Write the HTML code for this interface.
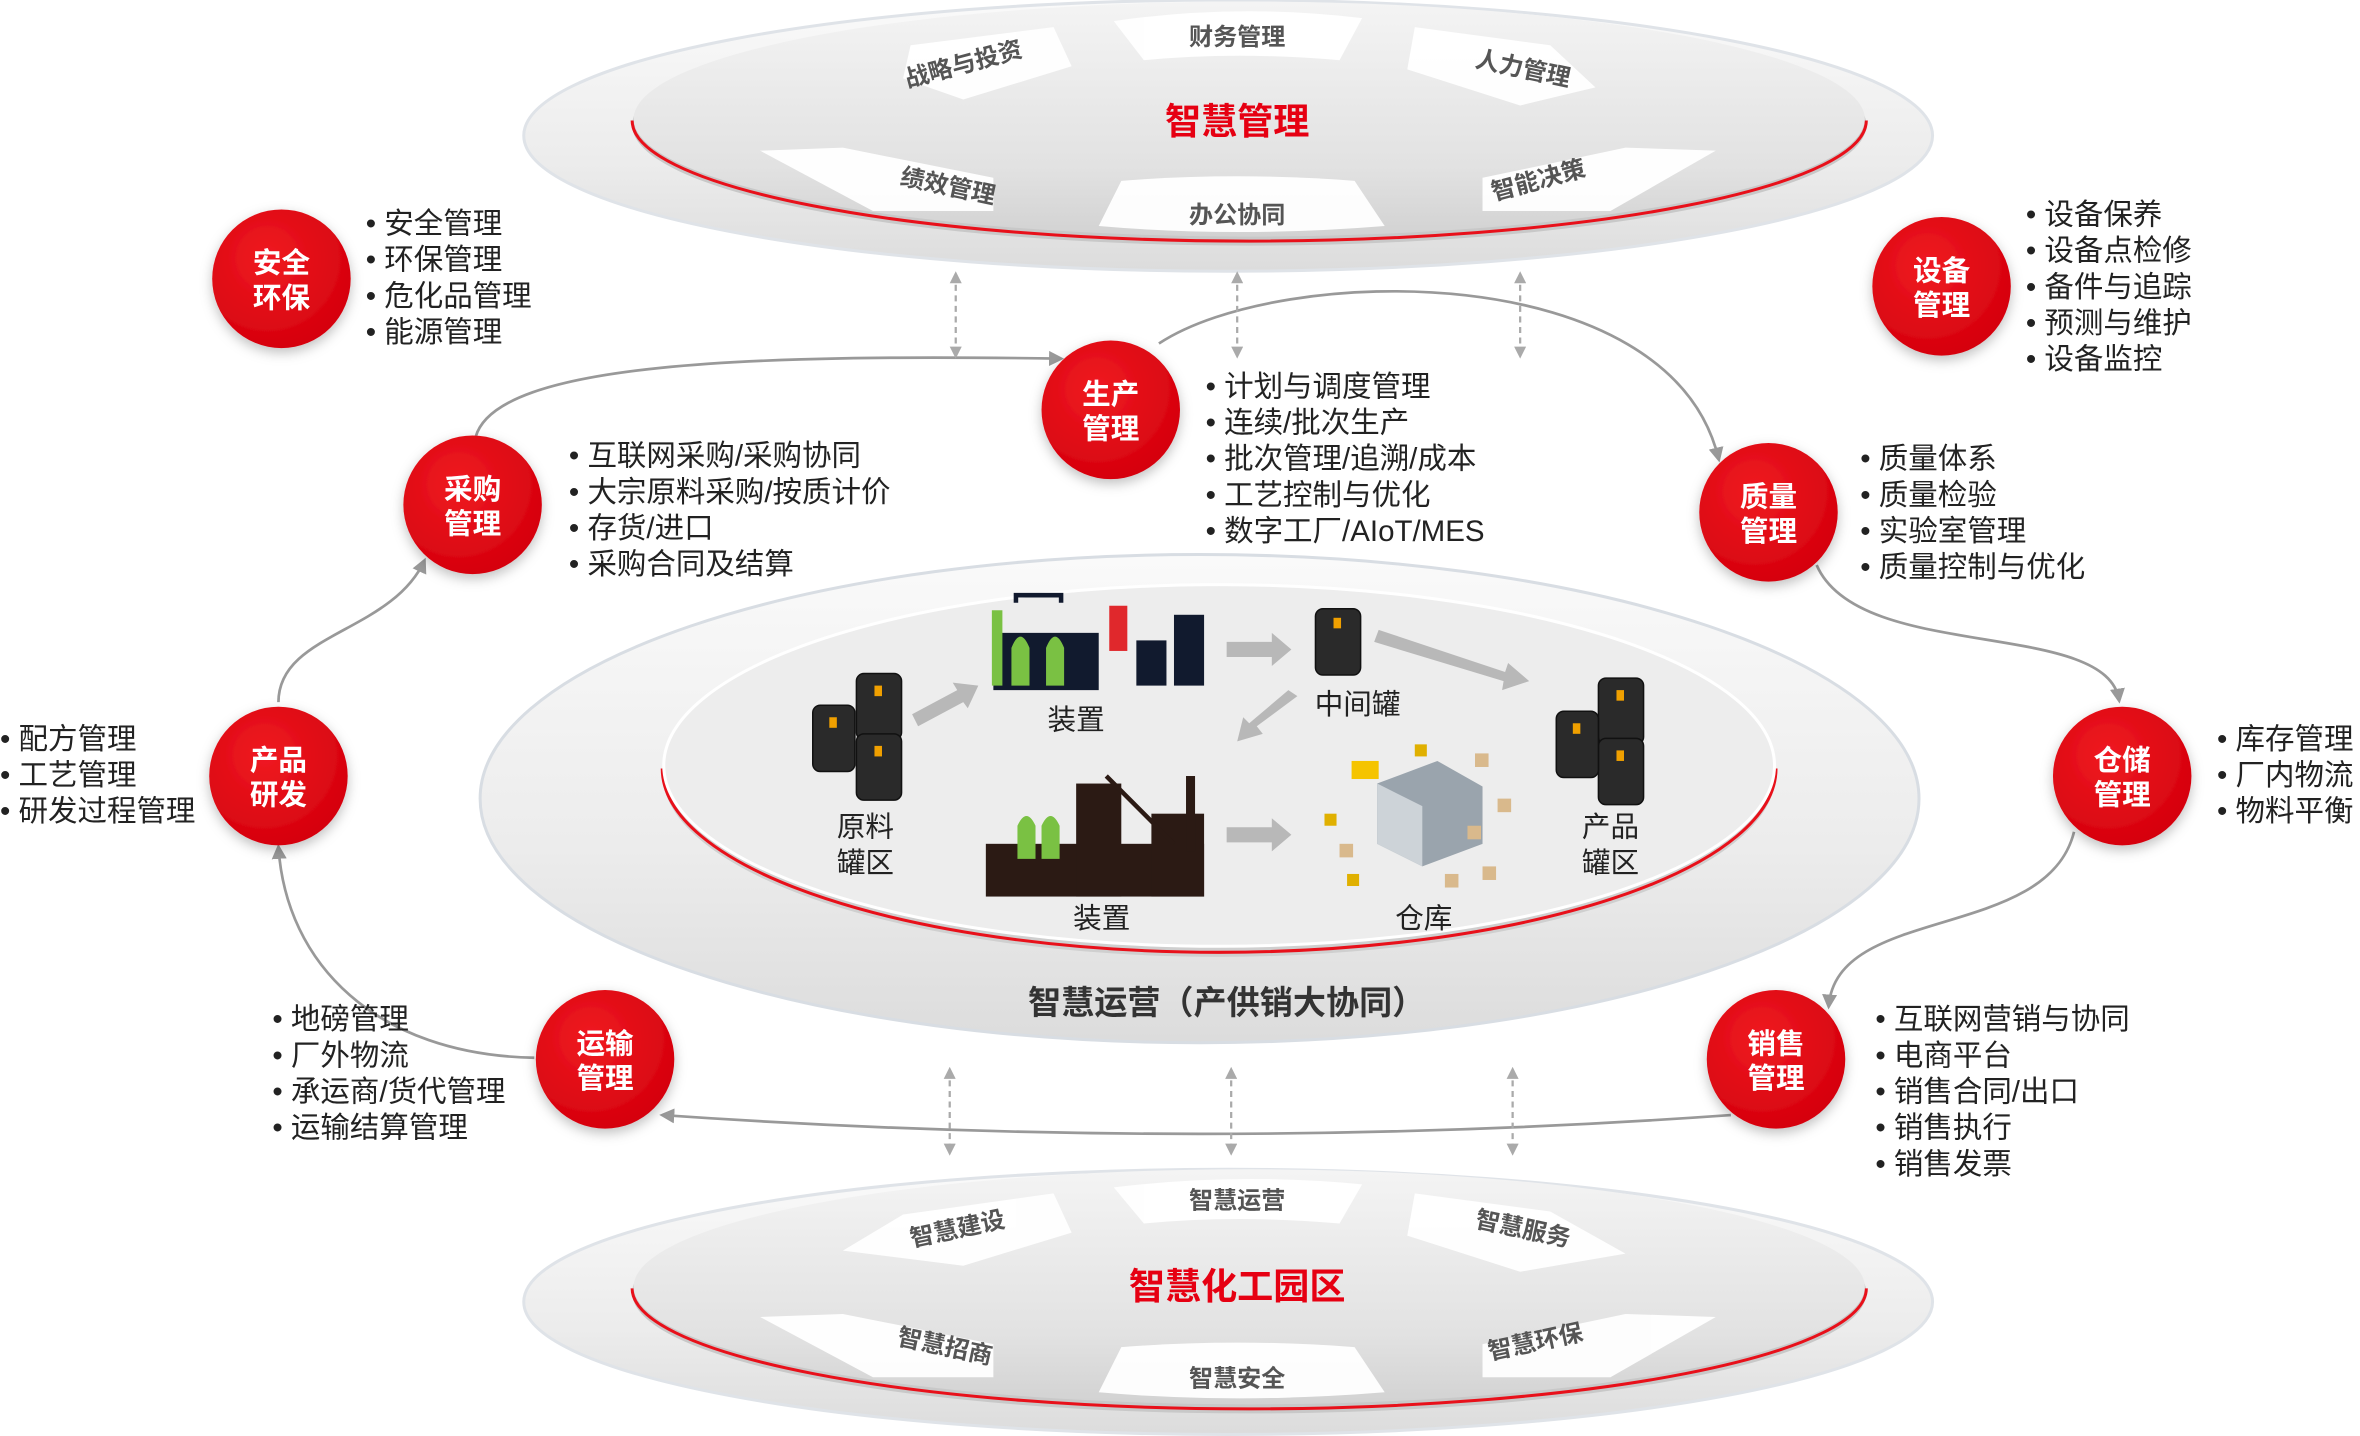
<!DOCTYPE html>
<html><head><meta charset="utf-8"><style>
html,body{margin:0;padding:0;background:#fff;}
svg{display:block;}
text{font-family:"Liberation Sans","Noto Sans CJK SC",sans-serif;}
</style></head><body>
<svg width="2360" height="1436" viewBox="0 0 1568 953" preserveAspectRatio="none" xmlns="http://www.w3.org/2000/svg">
<defs>
<linearGradient id="og" x1="0" y1="0" x2="0" y2="1"><stop offset="0" stop-color="#fafafa"/><stop offset="0.6" stop-color="#ececec"/><stop offset="1" stop-color="#dcdcdc"/></linearGradient>
<linearGradient id="ig" x1="0" y1="0" x2="0" y2="1"><stop offset="0" stop-color="#f4f4f4"/><stop offset="0.7" stop-color="#e2e2e2"/><stop offset="1" stop-color="#d2d2d2"/></linearGradient>
<radialGradient id="rg" cx="0.4" cy="0.35" r="0.7"><stop offset="0" stop-color="#f01a22"/><stop offset="1" stop-color="#d4000c"/></radialGradient>
<filter id="sh" x="-30%" y="-30%" width="160%" height="160%"><feDropShadow dx="0" dy="3" stdDeviation="4" flood-color="#000" flood-opacity="0.25"/></filter>
<marker id="ar" markerWidth="10" markerHeight="10" refX="8" refY="5" orient="auto" markerUnits="userSpaceOnUse"><path d="M0,0 L10,5 L0,10 z" fill="#999"/></marker>
<marker id="ar2" markerWidth="8" markerHeight="8" refX="6" refY="4" orient="auto-start-reverse" markerUnits="userSpaceOnUse"><path d="M0,0 L8,4 L0,8 z" fill="#aaa"/></marker>
</defs>

<!-- TOP ELLIPSE -->
<g>
<ellipse cx="816" cy="90" rx="468" ry="90" fill="url(#og)" stroke="#dfe3e8" stroke-width="2"/>
<ellipse cx="830" cy="83" rx="410" ry="80" fill="#c8c8c8"/>
<path d="M420,80 A410,80 0 0 0 1240,80" fill="none" stroke="#e8101a" stroke-width="2"/>
<ellipse cx="830" cy="79" rx="409" ry="78" fill="url(#ig)"/>
<g fill="#fff" opacity="0.95">
<path d="M740,14 Q822,2 905,12 L890,40 Q822,34 760,40 Z"/>
<path d="M605,30 L700,18 L712,44 L640,66 L600,52 Z"/>
<path d="M940,18 L1030,30 L1060,58 L1010,70 L935,46 Z"/>
<path d="M505,100 L560,98 L660,118 L660,140 L580,140 Z"/>
<path d="M745,120 Q822,114 900,120 L920,150 Q822,158 730,150 Z"/>
<path d="M985,118 L1080,98 L1140,100 L1070,140 L985,140 Z"/>
</g>
<text x="822" y="89" font-size="24" font-weight="bold" fill="#e60012" text-anchor="middle">智慧管理</text>
<g font-size="16" font-weight="bold" fill="#555" text-anchor="middle">
<text x="822" y="30">财务管理</text>
<text x="640" y="48" transform="rotate(-15 640 42)">战略与投资</text>
<text x="1012" y="51" transform="rotate(12 1012 45)">人力管理</text>
<text x="630" y="129" transform="rotate(12 630 123)">绩效管理</text>
<text x="822" y="148">办公协同</text>
<text x="1022" y="125" transform="rotate(-15 1022 119)">智能决策</text>
</g>
</g>

<!-- BOTTOM ELLIPSE -->
<g>
<ellipse cx="816" cy="864" rx="468" ry="88" fill="url(#og)" stroke="#dfe3e8" stroke-width="2"/>
<ellipse cx="830" cy="858" rx="410" ry="80" fill="#c8c8c8"/>
<path d="M420,855 A410,80 0 0 0 1240,855" fill="none" stroke="#e8101a" stroke-width="2"/>
<ellipse cx="830" cy="854" rx="409" ry="78" fill="url(#ig)"/>
<g fill="#fff" opacity="0.95">
<path d="M740,788 Q822,778 905,786 L890,812 Q822,806 760,812 Z"/>
<path d="M600,806 L700,792 L712,818 L640,840 L560,830 Z"/>
<path d="M940,792 L1030,804 L1080,832 L1010,844 L935,820 Z"/>
<path d="M505,874 L560,872 L660,892 L660,914 L580,914 Z"/>
<path d="M745,894 Q822,888 900,894 L920,924 Q822,932 730,924 Z"/>
<path d="M985,892 L1080,872 L1140,874 L1070,914 L985,914 Z"/>
</g>
<text x="822" y="862" font-size="24" font-weight="bold" fill="#e60012" text-anchor="middle">智慧化工园区</text>
<g font-size="16" font-weight="bold" fill="#555" text-anchor="middle">
<text x="822" y="802">智慧运营</text>
<text x="636" y="821" transform="rotate(-12 636 815)">智慧建设</text>
<text x="1012" y="821" transform="rotate(12 1012 815)">智慧服务</text>
<text x="628" y="899" transform="rotate(12 628 893)">智慧招商</text>
<text x="822" y="920">智慧安全</text>
<text x="1020" y="896" transform="rotate(-12 1020 890)">智慧环保</text>
</g>
</g>

<!-- CENTER ELLIPSE -->
<g>
<ellipse cx="797" cy="530" rx="478" ry="162" fill="url(#og)" stroke="#d8dde3" stroke-width="2"/>
<ellipse cx="810" cy="513" rx="370" ry="122" fill="#cfcfcf"/>
<path d="M440,510 A370,122 0 0 0 1180,510" fill="none" stroke="#e8101a" stroke-width="2"/>
<ellipse cx="810" cy="508" rx="369" ry="120" fill="#ededed" stroke="#fff" stroke-width="2"/>
<text x="815" y="673" font-size="22" font-weight="bold" fill="#333" text-anchor="middle">智慧运营（产供销大协同）</text>

<g fill="#2a2a2a" stroke="#111" stroke-width="1">
<rect x="569" y="447" width="30" height="44" rx="5"/>
<rect x="569" y="487" width="30" height="44" rx="5"/>
<rect x="540" y="468" width="28" height="44" rx="5"/>
<rect x="874" y="404" width="30" height="44" rx="5"/>
<rect x="1062" y="450" width="30" height="44" rx="5"/>
<rect x="1062" y="490" width="30" height="44" rx="5"/>
<rect x="1034" y="472" width="28" height="44" rx="5"/>
</g>
<g fill="#f0a000">
<rect x="581" y="455" width="5" height="7"/><rect x="581" y="495" width="5" height="7"/><rect x="551" y="476" width="5" height="7"/>
<rect x="886" y="410" width="5" height="7"/><rect x="1074" y="458" width="5" height="7"/><rect x="1074" y="498" width="5" height="7"/><rect x="1045" y="480" width="5" height="7"/>
</g>
<g>
<rect x="660" y="420" width="70" height="38" fill="#111a2e"/>
<path d="M675,400 L675,395 L705,395 L705,400" stroke="#111a2e" stroke-width="3" fill="none"/>
<path d="M672,455 L672,430 Q678,415 684,430 L684,455 Z M695,455 L695,430 Q701,415 707,430 L707,455 Z" fill="#7ac143"/>
<rect x="659" y="405" width="7" height="50" fill="#7ac143"/>
<rect x="737" y="402" width="12" height="30" fill="#e0282c"/>
<rect x="755" y="425" width="20" height="30" fill="#111a2e"/>
<rect x="780" y="408" width="20" height="47" fill="#111a2e"/>
</g>
<g fill="#2b1a14">
<rect x="655" y="560" width="145" height="35"/>
<rect x="715" y="520" width="30" height="75"/>
<rect x="765" y="540" width="35" height="55"/>
<rect x="788" y="515" width="6" height="50"/>
<path d="M735,515 L780,560" stroke="#2b1a14" stroke-width="3"/>
</g>
<path d="M676,570 L676,548 Q682,535 688,548 L688,570 Z M692,570 L692,548 Q698,535 704,548 L704,570 Z" fill="#7ac143"/>
<g>
<path d="M915,520 L955,505 L985,522 L985,560 L945,575 L915,560 Z" fill="#9aa4ad"/>
<path d="M915,520 L945,535 L945,575 L915,560 Z" fill="#cdd3d8"/>
<rect x="898" y="505" width="18" height="12" fill="#f5c400"/>
<g fill="#d9b98c"><rect x="980" y="500" width="9" height="9"/><rect x="995" y="530" width="9" height="9"/><rect x="985" y="575" width="9" height="9"/><rect x="890" y="560" width="9" height="9"/><rect x="960" y="580" width="9" height="9"/><rect x="975" y="548" width="9" height="9"/></g>
<g fill="#e0b000"><rect x="940" y="494" width="8" height="8"/><rect x="880" y="540" width="8" height="8"/><rect x="895" y="580" width="8" height="8"/></g>
</g>
<g fill="#b8b8b8">
<path d="M815,426 L845,426 L845,420 L858,431 L845,442 L845,436 L815,436 Z"/>
<path d="M815,549 L845,549 L845,543 L858,554 L845,565 L845,559 L815,559 Z"/>
<path d="M606,474 L636,458 L633,453 L650,455 L643,470 L640,466 L610,482 Z"/>
<path d="M916,418 L1000,446 L1002,440 L1016,452 L998,458 L999,452 L913,426 Z"/>
<path d="M862,462 L835,482 L839,487 L822,492 L826,476 L830,480 L856,458 Z"/>
</g>
<g font-size="19" fill="#222" text-anchor="middle">
<text x="715" y="484">装置</text>
<text x="902" y="474">中间罐</text>
<text x="575" y="555">原料</text><text x="575" y="579">罐区</text>
<text x="1070" y="555">产品</text><text x="1070" y="579">罐区</text>
<text x="732" y="616">装置</text>
<text x="946" y="616">仓库</text>
</g>
</g>

<g fill="none" stroke="#999" stroke-width="1.8" marker-end="url(#ar)">
<path d="M316,290 C330,240 500,235 705,238"/>
<path d="M770,228 C850,175 1110,170 1142,305"/>
<path d="M1207,375 C1235,440 1400,410 1408,465"/>
<path d="M1378,552 C1360,625 1220,600 1215,668"/>
<path d="M1150,740 Q800,765 440,740"/>
<path d="M355,702 C250,700 190,640 185,562"/>
<path d="M185,466 C185,420 260,420 282,372"/>
</g>
<g fill="none" stroke="#aaa" stroke-width="1.5" stroke-dasharray="4,3" marker-start="url(#ar2)" marker-end="url(#ar2)">
<path d="M635,182 L635,236"/><path d="M822,182 L822,236"/><path d="M1010,182 L1010,236"/>
<path d="M631,710 L631,765"/><path d="M818,710 L818,765"/><path d="M1005,710 L1005,765"/>
</g>

<g filter="url(#sh)" fill="url(#rg)">
<circle cx="187" cy="185" r="46"/><circle cx="738" cy="272" r="46"/><circle cx="1290" cy="190" r="46"/>
<circle cx="314" cy="335" r="46"/><circle cx="1175" cy="340" r="46"/><circle cx="185" cy="515" r="46"/>
<circle cx="1410" cy="515" r="46"/><circle cx="402" cy="703" r="46"/><circle cx="1180" cy="703" r="46"/>
</g>
<g font-size="19" font-weight="bold" fill="#fff" text-anchor="middle">
<text x="187" y="181">安全</text><text x="187" y="204">环保</text>
<text x="738" y="268">生产</text><text x="738" y="291">管理</text>
<text x="1290" y="186">设备</text><text x="1290" y="209">管理</text>
<text x="314" y="331">采购</text><text x="314" y="354">管理</text>
<text x="1175" y="336">质量</text><text x="1175" y="359">管理</text>
<text x="185" y="511">产品</text><text x="185" y="534">研发</text>
<text x="1410" y="511">仓储</text><text x="1410" y="534">管理</text>
<text x="402" y="699">运输</text><text x="402" y="722">管理</text>
<text x="1180" y="699">销售</text><text x="1180" y="722">管理</text>
</g>

<g font-size="19.6" fill="#222">
<text x="243" y="155">• 安全管理</text><text x="243" y="179">• 环保管理</text><text x="243" y="203">• 危化品管理</text><text x="243" y="227">• 能源管理</text>
<text x="801" y="263">• 计划与调度管理</text><text x="801" y="287">• 连续/批次生产</text><text x="801" y="311">• 批次管理/追溯/成本</text><text x="801" y="335">• 工艺控制与优化</text><text x="801" y="359">• 数字工厂/AIoT/MES</text>
<text x="1346" y="149">• 设备保养</text><text x="1346" y="173">• 设备点检修</text><text x="1346" y="197">• 备件与追踪</text><text x="1346" y="221">• 预测与维护</text><text x="1346" y="245">• 设备监控</text>
<text x="378" y="309">• 互联网采购/采购协同</text><text x="378" y="333">• 大宗原料采购/按质计价</text><text x="378" y="357">• 存货/进口</text><text x="378" y="381">• 采购合同及结算</text>
<text x="1236" y="311">• 质量体系</text><text x="1236" y="335">• 质量检验</text><text x="1236" y="359">• 实验室管理</text><text x="1236" y="383">• 质量控制与优化</text>
<text x="0" y="497">• 配方管理</text><text x="0" y="521">• 工艺管理</text><text x="0" y="545">• 研发过程管理</text>
<text x="1473" y="497">• 库存管理</text><text x="1473" y="521">• 厂内物流</text><text x="1473" y="545">• 物料平衡</text>
<text x="181" y="683">• 地磅管理</text><text x="181" y="707">• 厂外物流</text><text x="181" y="731">• 承运商/货代管理</text><text x="181" y="755">• 运输结算管理</text>
<text x="1246" y="683">• 互联网营销与协同</text><text x="1246" y="707">• 电商平台</text><text x="1246" y="731">• 销售合同/出口</text><text x="1246" y="755">• 销售执行</text><text x="1246" y="779">• 销售发票</text>
</g>
</svg>
</body></html>
